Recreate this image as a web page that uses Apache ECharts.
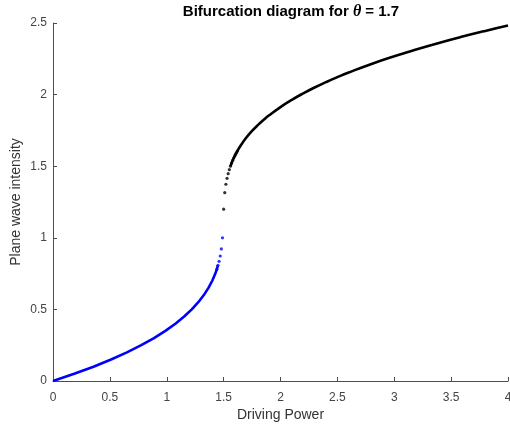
<!DOCTYPE html>
<html><head><meta charset="utf-8">
<script src="https://cdn.jsdelivr.net/npm/echarts@6/dist/echarts.min.js"></script>
<style>html,body{margin:0;padding:0;background:#fff}#c{width:510px;height:432px}</style>
</head><body><div id="c"></div>
<script>
// Lower (blue) branch, drawn as continuous line
const blueLineX = [0, 0.1861, 0.356, 0.5104, 0.65, 0.7756, 0.888, 0.9879, 1.076, 1.1531, 1.22, 1.2774, 1.326, 1.3666, 1.4, 1.4269, 1.44, 1.45];
const blueLineY = [0, 0.05, 0.1, 0.15, 0.2, 0.25, 0.3, 0.35, 0.4, 0.45, 0.5, 0.55, 0.6, 0.65, 0.7, 0.75, 0.78, 0.808];
// Lower branch, discrete samples near the fold
const blueDotX = [1.44, 1.45, 1.46, 1.47, 1.48, 1.49];
const blueDotY = [0.78, 0.808, 0.836, 0.873, 0.922, 1.0];
// Upper (black) branch, discrete samples near the jump
const blackDotX = [1.50, 1.51, 1.52, 1.53, 1.54, 1.55, 1.56, 1.57, 1.58, 1.59, 1.60, 1.61, 1.62];
const blackDotY = [1.2, 1.315, 1.374, 1.415, 1.448, 1.476, 1.5, 1.522, 1.541, 1.559, 1.575, 1.59, 1.605];
// Upper branch, continuous line
const blackLineX = [1.56, 1.58, 1.60, 1.62, 1.65, 1.7, 1.75, 1.8, 1.85, 1.9, 2.0, 2.1, 2.2, 2.3, 2.4, 2.5, 2.6, 2.8, 3.0, 3.2, 3.4, 3.6, 3.8, 4.0];
const blackLineY = [1.5, 1.541, 1.575, 1.605, 1.645, 1.7, 1.7463, 1.7865, 1.8226, 1.8553, 1.913, 1.9636, 2.0086, 2.0497, 2.087, 2.122, 2.1546, 2.2143, 2.268, 2.317, 2.3626, 2.405, 2.4447, 2.482];
const xTicks = [0, 0.5, 1, 1.5, 2, 2.5, 3, 3.5, 4];
const yTicks = [0, 0.5, 1, 1.5, 2, 2.5];

const zip = (a, b) => a.map((v, i) => [v, b[i]]);
const axisCol = '#4d4d4d';
const font = 'Liberation Sans, Arial, Helvetica, sans-serif';
const chart = echarts.init(document.getElementById('c'), null, {renderer: 'canvas'});
chart.setOption({
  animation: false,
  backgroundColor: '#fff',
  title: {
    text: '{b|Bifurcation diagram for }{i|θ}{b| = 1.7}',
    left: 286, top: -1, textAlign: 'center',
    textStyle: {
      rich: {
        b: {fontFamily: font, fontWeight: 'bold', fontSize: 15, color: '#000'},
        i: {fontFamily: 'Liberation Serif, Times New Roman, serif', fontStyle: 'italic', fontSize: 16, color: '#000'}
      }
    }
  },
  grid: {left: 53, right: 2, top: 23, bottom: 51, containLabel: false, outerBoundsMode: 'none'},
  xAxis: {
    type: 'value', min: xTicks[0], max: xTicks[xTicks.length - 1], interval: 0.5,
    name: 'Driving Power', nameLocation: 'middle', nameGap: 27, nameMoveOverlap: false,
    nameTextStyle: {fontFamily: font, fontSize: 14, color: '#333'},
    axisLine: {show: true, lineStyle: {color: axisCol, width: 1}},
    axisTick: {show: true, inside: true, length: 4, lineStyle: {color: axisCol}},
    axisLabel: {fontFamily: font, fontSize: 12, color: '#444', margin: 11, hideOverlap: false},
    splitLine: {show: false}
  },
  yAxis: {
    type: 'value', min: yTicks[0], max: yTicks[yTicks.length - 1], interval: 0.5,
    name: 'Plane wave intensity', nameLocation: 'middle', nameGap: 30, nameRotate: 90, nameMoveOverlap: false,
    nameTextStyle: {fontFamily: font, fontSize: 14, color: '#333'},
    axisLine: {show: true, lineStyle: {color: axisCol, width: 1}},
    axisTick: {show: true, inside: true, length: 4, lineStyle: {color: axisCol}},
    axisLabel: {fontFamily: font, fontSize: 12, color: '#444', margin: 6},
    splitLine: {show: false}
  },
  series: [
    {type: 'line', data: zip(blueLineX, blueLineY), showSymbol: false, lineStyle: {color: '#0000ff', width: 2.6}, z: 2},
    {type: 'scatter', data: zip(blueDotX, blueDotY), symbolSize: 3.2, itemStyle: {color: '#0000ff'}, z: 2},
    {type: 'scatter', data: zip(blackDotX, blackDotY), symbolSize: 3.2, itemStyle: {color: '#000'}, z: 3},
    {type: 'line', data: zip(blackLineX, blackLineY), showSymbol: false, smooth: true, lineStyle: {color: '#000', width: 2.6}, z: 3}
  ]
});
</script></body></html>
